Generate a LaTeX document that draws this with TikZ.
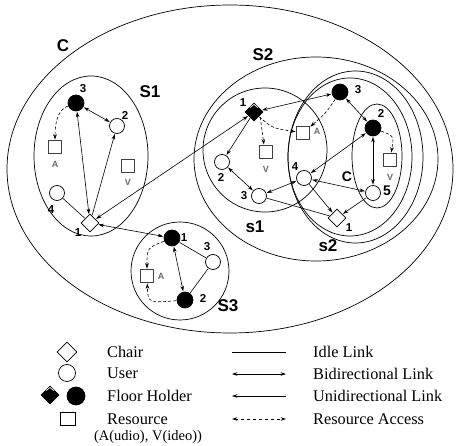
\documentclass[tikz,border=0pt]{standalone}
\usepackage{fontspec}
\setmainfont{Liberation Serif}
\setsansfont{Liberation Sans}
\usetikzlibrary{shapes.geometric,arrows.meta,calc}
\begin{document}
\begin{tikzpicture}[x=1pt,y=-1pt,
  >={Stealth[length=5.5pt,width=3.6pt]},
  grp/.style={draw, line width=0.7pt},
  user/.style={circle, draw, fill=white, line width=0.7pt, minimum size=15pt, inner sep=0pt},
  holder/.style={circle, draw, fill=black, line width=0.7pt, minimum size=16pt, inner sep=0pt},
  chair/.style={diamond, draw, fill=white, line width=0.7pt, minimum size=18pt, inner sep=0pt},
  fchair/.style={diamond, draw, fill=black, line width=0.7pt, minimum size=18pt, inner sep=0pt},
  res/.style={rectangle, draw=black!75, fill=white, line width=0.8pt, minimum size=13pt, inner sep=0pt},
  lnk/.style={line width=0.6pt, shorten >=0.5pt, shorten <=0.5pt},
  idle/.style={lnk},
  bi/.style={lnk, <->},
  uni/.style={lnk, ->},
  acc/.style={lnk, dash pattern=on 3pt off 2pt, ->},
  big/.style={font=\sffamily\bfseries\fontsize{17}{17}\selectfont, inner sep=0pt},
  mid/.style={font=\sffamily\bfseries\fontsize{14}{14}\selectfont, inner sep=0pt},
  num/.style={font=\sffamily\bfseries\fontsize{11.5}{11.5}\selectfont, inner sep=0pt},
  rl/.style={font=\sffamily\bfseries\fontsize{9}{9}\selectfont, text=black!60, inner sep=0pt},
  leg/.style={font=\fontsize{16.3}{16.3}\selectfont, anchor=west, inner sep=0pt},
  chev/.style={white, line width=0.7pt}
]
\useasboundingbox (0,0) rectangle (456,446);

% group outlines
\draw[grp] (230,169) ellipse [x radius=223pt, y radius=164pt];
\draw[grp] (91,156) ellipse [x radius=57pt, y radius=80pt];
\draw[grp] (180,271) circle [radius=49pt];
\draw[grp] (316,159) ellipse [x radius=122pt, y radius=102pt];
\draw[grp] (265,150) circle [radius=62pt];
\draw[grp] (355.5,157) ellipse [x radius=67.5pt, y radius=86pt];
\draw[grp] (350,157) ellipse [x radius=62pt, y radius=79pt];
\draw[grp] (377,156) ellipse [x radius=25pt, y radius=52pt];

% group labels
\node[big] (lbC) at (63,46) {C};
\node[big] (lbS1) at (150,92) {S1};
\node[big] (lbS2) at (263,55) {S2};
\node[big] (lbS3) at (228,306) {S3};
\node[big] (lbs1) at (255,227) {s1};
\node[big] (lbs2) at (328,246) {s2};
\node[mid] (lbc) at (347,177) {C};

% S1 nodes
\node[holder] (n3a) at (76,103) {};
\node[user] (n2a) at (117,126) {};
\node[res] (Aa) at (55,147) {};
\node[res] (Va) at (128,166) {};
\node[user] (n4a) at (57,193) {};
\node[chair] (d1a) at (90,223) {};
\node[num] (t3a) at (83,89) {3};
\node[num] (t2a) at (125,115) {2};
\node[rl] (tAa) at (55,164) {A};
\node[rl] (tVa) at (128,182) {V};
\node[num] (t4a) at (51,210) {4};
\node[num] (t1a) at (78,233) {1};

% S2 nodes
\node[fchair] (fd) at (254,112) {};
\draw[chev] ([shift={(-4,5)}]fd.north) -- ([shift={(0,1.8)}]fd.north) -- ([shift={(4,5)}]fd.north);
\node[holder] (h3) at (340,92) {};
\node[holder] (h2) at (373,128) {};
\node[res] (Ab) at (303,133) {};
\node[res] (Vb) at (266,152) {};
\node[res] (Vc) at (390,160) {};
\node[user] (u2) at (222,162) {};
\node[user] (u3) at (259,196) {};
\node[user] (u4) at (304,178) {};
\node[user] (u5) at (373,193) {};
\node[chair] (d1b) at (337,218) {};
\node[num] (t1b) at (243,103) {1};
\node[num] (t3b) at (358,90) {3};
\node[num] (t2b) at (381,113) {2};
\node[rl] (tAb) at (317,131) {A};
\node[rl] (tVb) at (266,169) {V};
\node[rl] (tVc) at (390,177) {V};
\node[num] (t2c) at (221,177) {2};
\node[num] (t3c) at (244,196) {3};
\node[num] (t4c) at (295,167) {4};
\node[mid] (t5c) at (387,191) {5};
\node[num] (t1c) at (349,228) {1};

% S3 nodes
\node[holder] (h1c) at (172,238) {};
\node[user] (u3s) at (213,262) {};
\node[holder] (h2s) at (185,300) {};
\node[res] (Ac) at (147,276) {};
\node[num] (t1s) at (184,238) {1};
\node[num] (t3s) at (207,247) {3};
\node[num] (t2s) at (203,298) {2};
\node[rl] (tAs) at (161,276) {A};

% S1 links
\draw[bi] (n3a) -- (n2a);
\draw[bi] (d1a) -- (n3a);
\draw[uni] (d1a) -- (n2a);
\draw[idle] (n4a) -- (d1a);
\draw[acc] (n3a) .. controls (57,110) and (55,125) .. (Aa);
\draw[bi] (d1a) -- (fd);
\draw[bi] (d1a) -- (h1c);

% S2 links
\draw[bi] (fd) -- (h3);
\draw[uni] (fd) -- (u2);
\draw[acc] (fd) .. controls (272,128) .. (Ab);
\draw[acc] ([xshift=1.5pt]fd.south east) -- ([xshift=-2pt]Vb.north);
\draw[acc] (h3) .. controls (326,113) .. (Ab);
\draw[bi] (h3) -- (h2);
\draw[acc] (h2) .. controls (394,136) .. (Vc);
\draw[bi] (h2) -- (u5);
\draw[bi] (h2) -- (u4);
\draw[bi] (u2) -- (u3);
\draw[bi] (u3) -- (u4);
\draw[bi] (u5) -- (u4);
\draw[uni] (u4) -- (d1b);
\draw[uni] (u5) -- (d1b);
\draw[idle] (u3) -- (d1b);

% S3 links
\draw[bi] (h1c) -- (h2s);
\draw[idle] (h1c) -- (u3s);
\draw[idle] (u3s) -- (h2s);
\draw[acc] (h1c) .. controls (147,248) .. (Ac);
\draw[acc] (h2s) .. controls (148,303) .. (Ac);

% legend
\node[chair, minimum size=20pt] (lchair) at (67,352) {};
\node[user, minimum size=17pt] (luser) at (67,373) {};
\node[fchair, minimum size=18pt] (lfd) at (50,395) {};
\draw[chev] ([shift={(-4,5)}]lfd.north) -- ([shift={(0,1.8)}]lfd.north) -- ([shift={(4,5)}]lfd.north);
\node[holder, minimum size=18pt] (lfh) at (76,396) {};
\node[res, draw=black, minimum width=15pt, minimum height=13pt] (lres) at (68,419) {};
\node[leg] (tchair) at (107,352) {Chair};
\node[leg] (tuser) at (107,373) {User};
\node[leg] (tfh) at (107,396) {Floor Holder};
\node[leg] (tres) at (107,419) {Resource};
\node[font=\fontsize{14.5}{14.5}\selectfont, inner sep=0pt] (tav) at (148,437) {(A(udio), V(ideo))};

\coordinate (la1) at (232,352); \coordinate (lb1) at (286,352);
\coordinate (la2) at (232,374); \coordinate (lb2) at (286,374);
\coordinate (la3) at (232,396); \coordinate (lb3) at (286,396);
\coordinate (la4) at (232,419); \coordinate (lb4) at (286,419);
\draw[line width=0.6pt] (la1) -- (lb1);
\draw[line width=0.6pt, <->] (la2) -- (lb2);
\draw[line width=0.6pt, ->] (lb3) -- (la3);
\draw[line width=0.6pt, dash pattern=on 3pt off 3pt, <->] (la4) -- (lb4);
\node[leg] (til) at (313,352) {Idle Link};
\node[leg] (tbl) at (313,374) {Bidirectional Link};
\node[leg] (tul) at (313,396) {Unidirectional Link};
\node[leg] (tra) at (313,419) {Resource Access};
\end{tikzpicture}
\end{document}
